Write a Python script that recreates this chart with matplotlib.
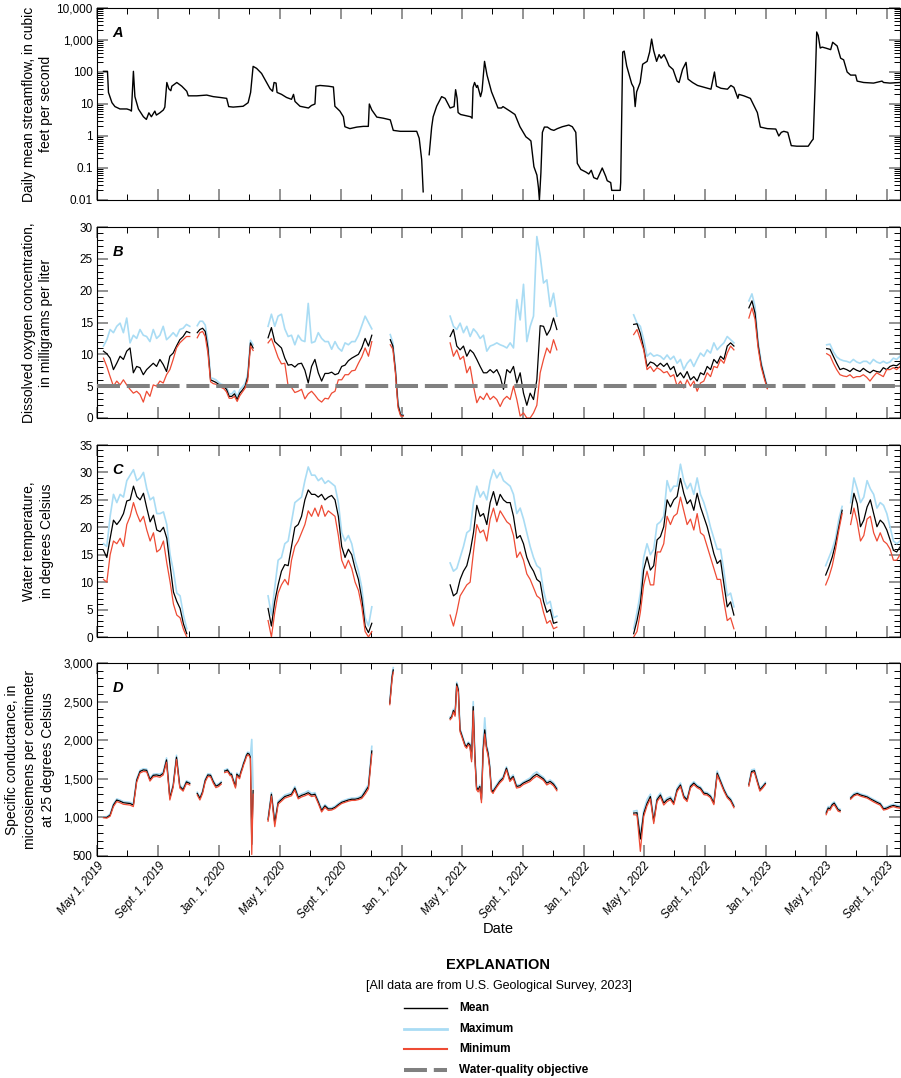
# Import libraries
import numpy as np
import pandas as pd
import matplotlib
matplotlib.use("Agg")
import matplotlib.pyplot as plt
import matplotlib.dates as mdates
from matplotlib.lines import Line2D
from matplotlib.ticker import FixedLocator, MultipleLocator, LogLocator, NullFormatter, FuncFormatter


# Colours
BLUE = "#a9dcf4"
RED = "#ee4b34"
GREY = "#808080"

# Panel A - daily mean streamflow (nan marks the gap in record)
flow_dates = [
    "2019-05-14", "2019-05-22", "2019-05-24", "2019-05-31", "2019-06-06", "2019-06-16", "2019-06-30",
    "2019-07-06", "2019-07-09", "2019-07-13", "2019-07-16", "2019-07-23", "2019-08-02", "2019-08-08",
    "2019-08-13", "2019-08-18", "2019-08-25", "2019-08-28", "2019-09-04", "2019-09-11", "2019-09-14",
    "2019-09-18", "2019-09-22", "2019-09-26", "2019-09-28", "2019-10-08", "2019-10-18", "2019-10-28",
    "2019-10-31", "2019-11-17", "2019-12-07", "2019-12-20", "2020-01-03", "2020-01-16", "2020-01-20",
    "2020-01-29", "2020-02-18", "2020-02-28", "2020-03-04", "2020-03-09", "2020-03-16", "2020-03-26",
    "2020-04-05", "2020-04-12", "2020-04-17", "2020-04-20", "2020-04-24", "2020-04-26", "2020-05-05",
    "2020-05-15", "2020-05-25", "2020-05-29", "2020-06-01", "2020-06-11", "2020-06-28", "2020-07-04",
    "2020-07-11", "2020-07-13", "2020-07-21", "2020-08-07", "2020-08-17", "2020-08-20", "2020-08-30",
    "2020-09-06", "2020-09-09", "2020-09-19", "2020-10-03", "2020-10-16", "2020-10-26", "2020-10-28",
    "2020-11-02", "2020-11-12", "2020-11-25", "2020-12-09", "2020-12-15", "2020-12-29", "2021-01-31",
    "2021-02-05", "2021-02-10", "2021-02-13", "2021-02-19",
    "2021-02-25", "2021-03-02", "2021-03-05", "2021-03-12", "2021-03-22", "2021-03-29", "2021-04-08",
    "2021-04-16", "2021-04-19", "2021-04-22", "2021-04-24", "2021-04-29", "2021-05-19", "2021-05-22",
    "2021-05-24", "2021-05-27", "2021-05-31", "2021-06-02", "2021-06-08", "2021-06-11", "2021-06-16",
    "2021-06-21", "2021-06-30", "2021-07-13", "2021-07-20", "2021-07-23", "2021-08-06", "2021-08-16",
    "2021-08-26", "2021-09-07", "2021-09-13", "2021-09-17", "2021-09-23", "2021-09-29", "2021-10-02",
    "2021-10-04", "2021-10-07", "2021-10-10", "2021-10-14", "2021-10-20", "2021-10-27", "2021-11-02",
    "2021-11-09", "2021-11-19", "2021-12-02", "2021-12-09", "2021-12-16", "2021-12-19", "2021-12-26",
    "2022-01-05", "2022-01-11", "2022-01-16", "2022-01-21", "2022-01-28", "2022-02-07", "2022-02-14",
    "2022-02-17", "2022-02-24", "2022-02-26", "2022-03-15", "2022-03-16", "2022-03-20", "2022-03-23",
    "2022-03-28", "2022-04-07", "2022-04-11", "2022-04-14", "2022-04-17", "2022-04-24", "2022-04-29",
    "2022-05-05", "2022-05-08", "2022-05-13", "2022-05-17", "2022-05-21", "2022-05-27", "2022-06-01",
    "2022-06-05", "2022-06-11", "2022-06-16", "2022-06-21", "2022-06-29", "2022-07-07", "2022-07-11",
    "2022-07-18", "2022-07-25", "2022-07-29", "2022-08-07", "2022-08-17", "2022-08-31", "2022-09-13",
    "2022-09-20", "2022-09-24", "2022-10-03", "2022-10-16", "2022-10-23", "2022-10-29", "2022-11-06",
    "2022-11-08", "2022-11-18", "2022-12-01", "2022-12-09", "2022-12-15", "2022-12-21", "2023-01-04",
    "2023-01-21", "2023-01-27", "2023-02-01", "2023-02-06", "2023-02-14", "2023-02-21", "2023-03-04",
    "2023-03-27", "2023-04-03", "2023-04-06", "2023-04-10", "2023-04-13", "2023-04-16", "2023-04-20",
    "2023-04-24", "2023-05-01", "2023-05-11", "2023-05-15", "2023-05-24", "2023-05-31", "2023-06-06",
    "2023-06-13", "2023-06-20", "2023-06-30", "2023-07-03", "2023-07-16", "2023-08-05", "2023-08-22",
    "2023-08-25", "2023-09-07", "2023-09-27",
]
flow_vals = [
    105, 105, 23, 11, 8.3, 7, 7,
    6.5, 6, 105, 17, 7, 4, 3.3,
    5.3, 4, 6, 4.5, 5.3, 6.5, 8,
    47, 30, 26, 36, 47, 36, 25,
    18, 18, 19, 17, 16, 15, 8.3,
    8, 8.5, 11, 23, 150, 130, 90,
    47, 30, 25, 47, 45, 23, 20,
    16, 14, 20, 12, 8.5, 7.5, 9,
    10, 36, 38, 36, 34, 8.5, 6,
    4, 1.95, 1.7, 1.9, 2, 2, 10,
    6.5, 3.9, 3.6, 3.2, 1.5, 1.4, 1.4,
    0.85, 0.18, 0.018, np.nan,
    0.26, 1.9, 4, 8.5, 17, 15, 7.5,
    8.3, 28, 15, 5.4, 4.7, 4.0, 3.6,
    33, 47, 33, 38, 17, 26, 215,
    80, 24, 7.5, 7.5, 8.3, 6, 4.7,
    1.95, 0.94, 0.8, 0.7, 0.11, 0.06, 0.025,
    0.01, 0.07, 1.3, 1.9, 1.9, 1.6, 1.5,
    1.7, 1.95, 2.2, 1.95, 1.3, 0.14, 0.09,
    0.075, 0.065, 0.085, 0.05, 0.045, 0.1, 0.055,
    0.04, 0.035, 0.02, 0.02, 0.035, 420, 450,
    155, 43, 33, 8.3, 24, 47, 175,
    200, 215, 420, 1070, 470, 215, 350,
    270, 350, 240, 155, 120, 52, 47,
    120, 200, 60, 47, 38, 33, 29,
    100, 36, 31, 29, 38, 33, 15,
    20, 18, 15, 8.3, 5.4, 1.9, 1.7,
    1.65, 1.0, 1.3, 1.4, 1.3, 0.5, 0.48,
    0.48, 0.7, 0.8, 47, 1780, 1400, 560,
    600, 560, 500, 850, 650, 270, 240,
    100, 80, 80, 52, 47, 45, 52,
    47, 45, 47,
]

# Panel B - dissolved oxygen, segments of record (start, end, evenly spaced readings)
do_starts = ["2019-05-14", "2019-11-18", "2020-04-08", "2020-12-09", "2021-04-08", "2022-04-11", "2022-11-28", "2023-05-03"]
do_ends = ["2019-11-03", "2020-03-09", "2020-11-02", "2021-01-04", "2021-11-08", "2022-10-29", "2023-01-04", "2023-09-27"]
do_mean = [
    [10.5, 10.1, 9.4, 7.6, 8.6, 9.7, 9.2, 10.5, 11.0, 7.1, 8.1, 7.9, 6.8, 7.6, 8.1, 8.6, 8.1, 9.2, 8.4, 7.3, 9.7, 10.2, 11.3, 12.3, 12.8, 13.6, 13.4],
    [13.4, 13.9, 14.1, 13.6, 11.0, 6.0, 5.8, 5.6, 5.3, 5.1, 4.9, 4.5, 3.4, 3.4, 3.8, 2.9, 3.9, 4.4, 5.0, 6.5, 11.8, 11.0],
    [12.6, 14.2, 12.0, 11.5, 11.0, 9.4, 8.3, 8.4, 8.0, 8.5, 8.6, 7.5, 5.5, 8.1, 9.2, 7.1, 5.8, 7.0, 7.0, 7.2, 6.8, 7.0, 8.1, 8.3, 9.0, 9.4, 9.7, 10.0, 11.0, 12.5, 11.3, 13.0],
    [12.3, 11.3, 7.4, 2.0, 0.5, 0.4],
    [12.8, 13.9, 11.3, 10.7, 11.3, 9.7, 10.7, 10.2, 9.2, 8.1, 7.1, 7.1, 7.6, 7.1, 7.6, 6.5, 4.5, 7.6, 7.1, 8.1, 5.5, 7.1, 3.9, 2.0, 3.9, 2.9, 6.0, 14.5, 14.4, 13.0, 13.9, 15.7, 13.9],
    [14.7, 14.8, 13.3, 11.0, 8.1, 8.8, 8.6, 8.1, 8.6, 8.1, 8.6, 7.6, 8.1, 6.5, 7.1, 6.3, 7.3, 6.0, 6.5, 5.8, 7.1, 6.8, 8.1, 7.6, 9.2, 8.6, 9.7, 9.2, 11.3, 11.8, 11.3],
    [17.3, 18.4, 16.5, 11.5, 8.4, 6.5, 4.7],
    [10.9, 10.8, 9.7, 8.6, 7.6, 7.8, 7.6, 7.3, 7.8, 7.5, 7.3, 7.8, 7.4, 7.1, 7.5, 7.3, 7.2, 7.9, 7.6, 8.1, 8.3, 8.2, 8.6],
]
do_max = [
    [11.3, 12.3, 13.9, 13.4, 14.4, 14.9, 13.4, 15.7, 11.8, 13.0, 12.5, 13.9, 13.0, 12.8, 12.0, 13.9, 12.5, 13.0, 14.4, 12.3, 12.8, 13.4, 12.8, 13.9, 14.1, 14.7, 14.4],
    [14.5, 15.2, 15.2, 14.6, 12.0, 6.3, 6.2, 6.0, 5.6, 5.3, 5.2, 4.9, 3.8, 3.8, 4.3, 3.3, 4.4, 4.9, 5.4, 7.0, 12.2, 11.5],
    [14.4, 16.3, 14.4, 16.0, 16.3, 14.0, 12.8, 13.0, 11.5, 13.0, 12.2, 12.0, 18.0, 11.8, 12.0, 13.4, 12.5, 12.0, 12.0, 10.8, 12.0, 11.0, 10.5, 11.8, 11.5, 12.0, 12.0, 13.0, 14.5, 16.0, 15.0, 14.0],
    [13.1, 11.8, 7.8, 2.4, 0.6, 0.5],
    [16.0, 14.4, 13.9, 14.9, 13.4, 14.4, 12.8, 14.0, 13.4, 12.5, 13.0, 10.5, 11.3, 11.5, 11.8, 11.5, 11.3, 11.0, 11.8, 11.0, 18.6, 15.4, 21.0, 12.0, 14.4, 16.0, 28.5, 25.5, 21.2, 21.7, 17.5, 19.6, 16.0],
    [16.2, 14.9, 14.4, 12.3, 9.7, 10.2, 9.7, 9.9, 9.7, 9.2, 9.9, 9.2, 9.7, 8.6, 9.2, 7.6, 8.6, 9.2, 8.1, 9.2, 10.2, 9.7, 10.7, 10.2, 11.8, 10.7, 11.3, 11.8, 12.8, 12.3, 11.8],
    [18.4, 19.5, 17.5, 12.0, 8.8, 6.8, 5.0],
    [11.5, 11.6, 10.4, 9.6, 9.2, 9.0, 8.9, 8.7, 9.2, 8.8, 8.6, 8.9, 8.9, 8.5, 9.2, 8.8, 8.6, 8.9, 8.6, 8.8, 9.4, 9.2, 9.7],
]
do_min = [
    [9.4, 8.1, 6.5, 5.0, 5.8, 5.2, 6.0, 5.2, 4.5, 3.9, 4.2, 3.7, 2.5, 4.2, 3.4, 5.2, 5.0, 5.8, 5.5, 6.8, 7.6, 9.2, 11.0, 11.8, 12.3, 12.8, 12.8],
    [12.6, 13.4, 13.6, 12.8, 10.2, 5.7, 5.4, 5.3, 5.0, 4.8, 4.6, 4.1, 3.1, 3.1, 3.4, 2.6, 3.5, 4.1, 4.7, 6.0, 11.3, 10.6],
    [11.8, 12.5, 11.0, 9.5, 8.5, 8.6, 5.0, 4.8, 4.0, 4.2, 4.5, 3.0, 3.8, 4.2, 3.6, 2.9, 2.5, 3.1, 3.0, 3.9, 4.2, 6.0, 6.0, 6.8, 6.8, 7.4, 7.5, 8.6, 9.6, 11.0, 9.7, 12.0],
    [11.5, 10.8, 7.0, 1.6, 0.3, 0.3],
    [11.8, 9.7, 10.7, 9.2, 9.7, 7.1, 8.1, 5.0, 2.4, 3.4, 2.9, 3.9, 2.9, 3.4, 2.9, 1.8, 2.9, 3.4, 2.9, 5.0, 2.9, 0.3, 0.8, 0.0, 0.0, 0.8, 2.0, 7.1, 9.2, 11.0, 10.2, 12.3, 10.7],
    [13.1, 13.9, 12.3, 10.7, 7.6, 8.1, 7.3, 7.9, 7.6, 7.1, 7.3, 6.5, 6.8, 5.0, 5.8, 4.7, 6.0, 5.0, 5.8, 4.2, 5.5, 5.8, 7.1, 6.5, 8.1, 7.9, 9.2, 8.6, 10.2, 11.3, 10.7],
    [15.7, 17.3, 15.5, 11.0, 8.0, 6.2, 4.6],
    [10.1, 9.8, 8.6, 7.6, 6.8, 6.6, 6.5, 6.8, 6.3, 6.5, 6.5, 6.8, 6.4, 5.8, 6.5, 7.1, 6.8, 6.5, 7.6, 7.6, 7.9, 7.6, 8.1],
]
wq_objective = 5.0

# Panel C - water temperature
wt_starts = ["2019-05-14", "2020-04-08", "2021-04-08", "2022-04-11", "2023-05-01", "2023-06-20"]
wt_ends = ["2019-10-28", "2020-11-02", "2021-11-08", "2022-10-29", "2023-06-03", "2023-09-27"]
wt_mean = [
    [15.8, 14.5, 18.0, 21.3, 20.5, 21.3, 22.5, 24.8, 25.0, 27.5, 25.6, 25.0, 26.2, 23.5, 21.0, 22.2, 19.5, 19.2, 20.0, 18.0, 13.0, 8.2, 6.5, 5.2, 2.4, 0.6],
    [5.2, 2.0, 6.5, 9.5, 12.0, 13.2, 13.0, 16.5, 20.0, 20.5, 22.0, 25.0, 26.8, 26.0, 26.0, 25.5, 26.0, 25.0, 25.5, 25.8, 25.0, 22.0, 16.5, 14.5, 16.0, 15.0, 12.5, 10.5, 7.0, 2.0, 0.8, 2.5],
    [9.5, 7.5, 8.0, 10.5, 12.0, 13.0, 15.5, 19.0, 24.0, 22.0, 22.5, 20.5, 24.5, 26.5, 24.0, 26.0, 25.0, 24.5, 24.5, 22.0, 18.0, 18.5, 17.0, 14.5, 13.0, 12.0, 10.5, 10.0, 6.5, 4.5, 5.0, 2.5, 2.7],
    [0.6, 3.0, 6.1, 12.2, 14.6, 12.2, 13.0, 17.7, 18.3, 20.1, 25.0, 23.7, 25.0, 25.6, 28.9, 26.2, 24.3, 25.0, 23.1, 26.2, 23.7, 21.9, 20.1, 17.7, 15.2, 13.4, 14.0, 9.7, 5.5, 6.4, 4.0],
    [11.3, 12.8, 14.6, 17.0, 20.1, 23.1],
    [22.5, 26.2, 24.3, 20.1, 21.3, 23.7, 25.0, 22.5, 20.1, 21.3, 20.7, 19.5, 17.7, 15.8, 15.5, 16.4],
]
wt_max = [
    [17.0, 16.5, 22.0, 26.0, 24.5, 26.0, 25.5, 28.5, 29.5, 30.5, 28.5, 29.0, 30.0, 27.0, 25.0, 25.5, 22.5, 22.5, 22.8, 20.5, 15.0, 12.0, 8.0, 7.5, 4.0, 1.5],
    [7.5, 4.0, 9.0, 14.0, 14.5, 17.0, 17.5, 21.0, 24.5, 25.0, 25.5, 28.5, 31.0, 29.5, 29.5, 28.5, 29.0, 28.0, 28.5, 28.0, 27.5, 24.5, 19.0, 17.5, 18.5, 17.0, 14.0, 12.0, 9.0, 3.5, 2.0, 5.5],
    [13.5, 12.0, 12.5, 14.5, 16.5, 19.0, 19.5, 24.5, 27.5, 25.5, 26.5, 25.0, 28.5, 30.5, 29.0, 30.0, 28.5, 28.0, 27.5, 26.0, 22.5, 23.5, 21.5, 19.0, 16.5, 14.5, 13.0, 12.5, 8.5, 6.0, 6.5, 3.5, 3.8],
    [1.5, 4.5, 8.0, 14.5, 17.0, 15.0, 16.0, 20.5, 21.0, 22.0, 28.5, 26.5, 27.5, 27.5, 31.5, 28.5, 27.0, 28.0, 26.0, 29.0, 26.0, 24.5, 22.5, 20.0, 18.0, 16.0, 16.0, 12.0, 7.5, 8.0, 5.5],
    [13.0, 14.5, 16.0, 18.0, 21.5, 23.8],
    [24.5, 29.0, 27.0, 24.5, 25.5, 28.5, 27.0, 26.0, 23.5, 24.5, 24.0, 22.5, 20.0, 17.5, 17.0, 17.5],
]
wt_min = [
    [10.5, 10.0, 15.0, 17.5, 17.0, 18.0, 16.5, 20.5, 22.0, 24.5, 22.5, 21.0, 22.0, 19.5, 17.5, 19.0, 15.5, 16.0, 17.5, 13.5, 10.0, 6.0, 4.0, 3.5, 1.4, 0.0],
    [3.0, 0.0, 4.5, 8.0, 9.5, 10.5, 9.5, 14.0, 16.5, 17.5, 19.0, 20.5, 23.0, 22.0, 23.5, 22.0, 24.0, 22.0, 23.0, 22.5, 22.0, 18.5, 14.0, 12.5, 14.0, 12.5, 10.0, 8.5, 5.5, 1.0, 0.0, 1.0],
    [4.0, 2.0, 4.5, 7.5, 8.5, 9.5, 10.0, 15.5, 20.5, 19.0, 19.5, 17.5, 21.5, 23.5, 21.0, 23.0, 22.0, 21.0, 20.5, 18.5, 14.5, 15.5, 14.0, 11.5, 10.5, 9.0, 7.5, 7.0, 4.5, 2.5, 3.0, 1.5, 1.8],
    [0.0, 1.0, 4.5, 9.5, 12.0, 9.5, 9.5, 15.5, 15.5, 17.0, 22.0, 20.5, 22.0, 22.5, 25.5, 23.0, 20.5, 21.5, 19.5, 22.5, 19.0, 18.5, 16.5, 14.5, 12.5, 10.5, 10.5, 6.5, 3.0, 3.5, 1.5],
    [9.5, 11.0, 13.0, 16.0, 19.5, 22.5],
    [20.5, 23.5, 21.0, 17.5, 18.5, 21.5, 22.0, 19.0, 17.5, 19.0, 17.5, 17.0, 16.0, 14.0, 14.0, 15.0],
]

# Panel D - specific conductance
sc_starts = ["2019-05-14", "2019-11-18", "2020-01-12", "2020-04-08", "2020-12-08", "2021-04-08", "2021-07-03",
             "2022-04-11", "2022-11-28", "2023-05-02", "2023-06-20"]
sc_ends = ["2019-11-03", "2020-01-05", "2020-03-09", "2020-11-02", "2020-12-15", "2021-07-03", "2021-11-08",
           "2022-10-29", "2022-12-31", "2023-05-30", "2023-09-27"]
sc_mean = [
    [1000, 1000, 1030, 1160, 1225, 1210, 1190, 1185, 1180, 1160, 1480, 1595, 1615, 1610, 1490, 1545, 1550, 1540, 1570, 1745, 1250, 1410, 1780, 1400, 1360, 1460, 1440],
    [1310, 1245, 1330, 1480, 1550, 1545, 1465, 1405, 1420, 1450],
    [1600, 1605, 1615, 1590, 1560, 1560, 1500, 1450, 1400, 1560, 1540, 1520, 1590, 1640, 1700, 1745, 1800, 1830, 1820, 1780, 650, 1350],
    [970, 1300, 930, 1190, 1230, 1270, 1285, 1300, 1380, 1260, 1285, 1300, 1320, 1290, 1300, 1200, 1090, 1150, 1110, 1110, 1130, 1165, 1195, 1210, 1225, 1235, 1235, 1245, 1265, 1330, 1400, 1860],
    [2478, 2650, 2823, 2910],
    [2284, 2306, 2384, 2330, 2730, 2650, 2134, 2069, 2004, 1940, 1918, 1961, 1940, 1750, 2435, 1800, 1390, 1358, 1401, 1228, 1875, 2134, 1918, 1832, 1660, 1358, 1336],
    [1336, 1401, 1466, 1509, 1638, 1487, 1530, 1401, 1410, 1444, 1466, 1487, 1530, 1560, 1530, 1500, 1444, 1466, 1430, 1366],
    [1056, 1060, 720, 1050, 1180, 1270, 950, 1230, 1290, 1185, 1228, 1250, 1185, 1358, 1420, 1272, 1228, 1401, 1444, 1401, 1379, 1315, 1306, 1272, 1185, 1573, 1466, 1358, 1272, 1228, 1142],
    [1422, 1595, 1605, 1480, 1360, 1395, 1440],
    [1056, 1121, 1115, 1164, 1185, 1142, 1099, 1090],
    [1250, 1293, 1310, 1290, 1278, 1265, 1240, 1218, 1195, 1175, 1110, 1121, 1142, 1155, 1142, 1134],
]
sc_max = [
    [1005, 1010, 1045, 1175, 1240, 1225, 1205, 1200, 1195, 1180, 1500, 1610, 1630, 1625, 1510, 1560, 1565, 1560, 1590, 1770, 1270, 1425, 1805, 1415, 1380, 1475, 1455],
    [1325, 1260, 1345, 1495, 1565, 1560, 1480, 1420, 1435, 1465],
    [1615, 1620, 1630, 1605, 1575, 1575, 1515, 1465, 1415, 1575, 1555, 1535, 1605, 1655, 1715, 1760, 1815, 1845, 1840, 1800, 2010, 1380],
    [990, 1320, 950, 1210, 1250, 1290, 1305, 1320, 1400, 1280, 1305, 1320, 1345, 1310, 1320, 1220, 1110, 1165, 1125, 1125, 1145, 1180, 1210, 1225, 1240, 1250, 1250, 1260, 1285, 1355, 1425, 1920],
    [2500, 2680, 2850, 2940],
    [2300, 2320, 2400, 2350, 2750, 2670, 2150, 2085, 2020, 1955, 1935, 1975, 1960, 1780, 2500, 1830, 1410, 1375, 1420, 1250, 1950, 2290, 1950, 1860, 1680, 1375, 1355],
    [1355, 1420, 1485, 1525, 1655, 1505, 1550, 1420, 1425, 1460, 1485, 1510, 1560, 1590, 1550, 1520, 1460, 1485, 1450, 1385],
    [1080, 1090, 760, 1090, 1230, 1300, 980, 1255, 1315, 1205, 1250, 1270, 1205, 1380, 1445, 1290, 1245, 1420, 1462, 1418, 1395, 1330, 1322, 1288, 1200, 1600, 1485, 1375, 1288, 1245, 1158],
    [1440, 1615, 1625, 1500, 1378, 1410, 1455],
    [1075, 1140, 1135, 1180, 1200, 1160, 1115, 1105],
    [1265, 1310, 1325, 1305, 1292, 1280, 1255, 1232, 1210, 1190, 1125, 1136, 1157, 1170, 1157, 1148],
]
sc_min = [
    [995, 990, 1015, 1140, 1205, 1190, 1170, 1165, 1160, 1140, 1455, 1575, 1595, 1590, 1470, 1525, 1530, 1520, 1550, 1715, 1225, 1390, 1750, 1380, 1340, 1440, 1420],
    [1290, 1225, 1310, 1460, 1530, 1525, 1445, 1385, 1400, 1430],
    [1580, 1585, 1595, 1570, 1540, 1540, 1480, 1430, 1380, 1540, 1520, 1500, 1570, 1620, 1680, 1725, 1780, 1810, 1800, 1760, 520, 1300],
    [950, 1275, 880, 1170, 1210, 1250, 1265, 1280, 1355, 1240, 1265, 1280, 1300, 1270, 1280, 1180, 1070, 1130, 1090, 1095, 1115, 1150, 1180, 1195, 1210, 1220, 1220, 1230, 1245, 1300, 1370, 1820],
    [2460, 2620, 2790, 2880],
    [2265, 2290, 2365, 2310, 2700, 2620, 2110, 2050, 1985, 1920, 1895, 1940, 1915, 1720, 2380, 1760, 1360, 1330, 1380, 1190, 1820, 2080, 1890, 1800, 1630, 1335, 1315],
    [1315, 1385, 1445, 1490, 1615, 1465, 1510, 1380, 1390, 1425, 1445, 1465, 1505, 1535, 1510, 1480, 1420, 1445, 1410, 1345],
    [1035, 1030, 560, 1010, 1150, 1240, 920, 1205, 1265, 1160, 1205, 1230, 1165, 1335, 1400, 1250, 1205, 1380, 1425, 1385, 1360, 1295, 1288, 1255, 1165, 1550, 1445, 1340, 1255, 1210, 1125],
    [1405, 1575, 1585, 1460, 1340, 1378, 1425],
    [1035, 1100, 1095, 1145, 1165, 1122, 1080, 1072],
    [1235, 1278, 1295, 1275, 1262, 1250, 1225, 1200, 1178, 1158, 1095, 1105, 1126, 1140, 1126, 1118],
]

# Axis text
ylabels = [
    "Daily mean streamflow, in cubic\nfeet per second",
    "Dissolved oxygen concentration,\nin milligrams per liter",
    "Water temperature,\nin degrees Celsius",
    "Specific conductance, in\nmicrosiemens per centimeter\nat 25 degrees Celsius",
]
panel_letters = ["A", "B", "C", "D"]
month_names = {1: "Jan.", 5: "May", 9: "Sept."}

FONT = ["Liberation Sans", "DejaVu Sans"]
plt.rcParams["font.family"] = FONT


def plot_segments(ax, starts, ends, means, maxs, mins):
    """Draw maximum, mean and minimum for each continuous piece of record"""
    for s, e, mn, mx, lo in zip(starts, ends, means, maxs, mins):
        d = pd.date_range(s, e, periods=len(mn))
        ax.plot(d, mx, color=BLUE, lw=1.2, zorder=2)
        ax.plot(d, mn, color="black", lw=0.9, zorder=3)
        ax.plot(d, lo, color=RED, lw=0.9, zorder=4)


def style_axis(ax, show_dates):
    """Ticks on all four sides, pointing in"""
    major = pd.date_range("2019-05-01", "2023-09-01", freq="4MS")
    minor = pd.date_range("2019-07-01", "2023-09-01", freq="4MS")
    ax.set_xlim(pd.Timestamp("2019-05-01"), pd.Timestamp("2023-09-27"))
    ax.xaxis.set_major_locator(FixedLocator(mdates.date2num(major.to_pydatetime())))
    ax.xaxis.set_minor_locator(FixedLocator(mdates.date2num(minor.to_pydatetime())))
    ax.tick_params(axis="both", which="major", direction="in", length=8, width=1.2,
                   color=GREY, top=True, right=True, labelsize=8.5, pad=3)
    ax.tick_params(axis="both", which="minor", direction="in", length=4, width=0.7,
                   color="black", top=True, right=True)
    if show_dates:
        ax.set_xticklabels([f"{month_names[d.month]} 1, {d.year}" for d in major],
                           rotation=50, ha="right", rotation_mode="anchor",
                           style="italic", fontsize=8.5)
    else:
        ax.tick_params(axis="x", which="both", labelbottom=False)
    for sp in ax.spines.values():
        sp.set_color("black")
        sp.set_linewidth(0.8)


fig = plt.figure(figsize=(9.01, 10.78), dpi=100)
W, H = 901.0, 1078.0
left = 97 / W
width = 803 / W
panel_px = [(8, 200), (227, 418), (445, 637), (663, 856)]
axes = []
for top, bot in panel_px:
    axes.append(fig.add_axes([left, 1 - bot / H, width, (bot - top) / H]))
ax_a, ax_b, ax_c, ax_d = axes

# Panel A
ax_a.plot(pd.to_datetime(flow_dates), flow_vals, color="black", lw=1.0)
ax_a.set_yscale("log")
ax_a.set_ylim(0.01, 10000)
ax_a.yaxis.set_major_locator(FixedLocator([0.01, 0.1, 1, 10, 100, 1000, 10000]))
ax_a.yaxis.set_major_formatter(FuncFormatter(lambda v, p: f"{v:,.0f}" if v >= 1 else f"{v:g}"))
ax_a.yaxis.set_minor_locator(LogLocator(base=10, subs=np.arange(2, 10), numticks=20))
ax_a.yaxis.set_minor_formatter(NullFormatter())
style_axis(ax_a, False)

# Panel B
plot_segments(ax_b, do_starts, do_ends, do_mean, do_max, do_min)
ax_b.axhline(wq_objective, color=GREY, lw=2.9, dashes=(5.7, 1.7), zorder=6)
ax_b.set_ylim(0, 30)
ax_b.yaxis.set_major_locator(MultipleLocator(5))
ax_b.yaxis.set_minor_locator(MultipleLocator(1))
style_axis(ax_b, False)

# Panel C
plot_segments(ax_c, wt_starts, wt_ends, wt_mean, wt_max, wt_min)
ax_c.set_ylim(0, 35)
ax_c.yaxis.set_major_locator(MultipleLocator(5))
ax_c.yaxis.set_minor_locator(MultipleLocator(1))
style_axis(ax_c, False)

# Panel D
plot_segments(ax_d, sc_starts, sc_ends, sc_mean, sc_max, sc_min)
ax_d.set_ylim(500, 3000)
ax_d.yaxis.set_major_locator(MultipleLocator(500))
ax_d.yaxis.set_minor_locator(MultipleLocator(100))
ax_d.yaxis.set_major_formatter(FuncFormatter(lambda v, p: f"{v:,.0f}"))
style_axis(ax_d, True)

# Y labels and panel letters
label_x = [37.5, 37.5, 38, 30]
for ax, lab, lx, (top, bot), letter in zip(axes, ylabels, label_x, panel_px, panel_letters):
    fig.text(lx / W, 1 - (top + bot) / 2 / H, lab, rotation=90, ha="center", va="center",
             fontsize=10, linespacing=1.35)
    ax.text(0.026, 0.87, letter, transform=ax.transAxes, ha="center", va="center",
            fontsize=10.5, fontweight="bold", style="italic")

# Date label and explanation
cx = 498.5 / W
fig.text(cx, 1 - 929 / H, "Date", ha="center", va="center", fontsize=10.5)
fig.text(cx, 1 - 965 / H, "EXPLANATION", ha="center", va="center", fontsize=10.5, fontweight="bold")
fig.text(cx, 1 - 986 / H, "[All data are from U.S. Geological Survey, 2023]", ha="center",
         va="center", fontsize=9)

legend_items = [
    ("Mean", dict(color="black", lw=1.0)),
    ("Maximum", dict(color=BLUE, lw=2.0)),
    ("Minimum", dict(color=RED, lw=1.5)),
    ("Water-quality objective", dict(color=GREY, lw=2.9, dashes=(5.7, 1.7))),
]
for i, (name, kw) in enumerate(legend_items):
    y = 1 - (1008 + i * 20.5) / H
    fig.add_artist(Line2D([404 / W, 447 / W], [y, y], transform=fig.transFigure, **kw))
    fig.text(459 / W, y, name, ha="left", va="center", fontsize=8.5, fontweight="bold")

fig.savefig("out.png", dpi=100)
